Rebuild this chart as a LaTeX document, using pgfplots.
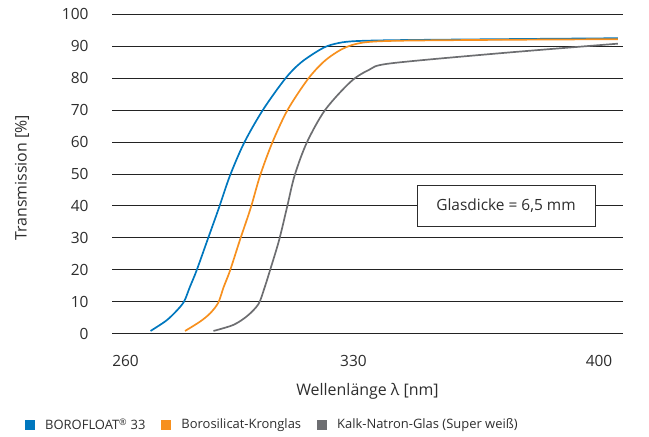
\documentclass[border=0pt]{standalone}
\usepackage{pgfplots}
\pgfplotsset{compat=1.18}
\usepackage{fontspec}
\setmainfont{Open Sans}
\definecolor{cblue}{RGB}{0,119,190}
\definecolor{corange}{RGB}{247,144,30}
\definecolor{cgray}{RGB}{109,110,113}
\definecolor{cgrid}{RGB}{35,35,35}
\definecolor{ctext}{RGB}{45,45,45}
\begin{document}
\fontsize{16}{19}\selectfont
\begin{tikzpicture}
\path[use as bounding box] (0,0) rectangle (649bp,437bp);
\begin{axis}[
  at={(112bp,103.5bp)}, anchor=south west,
  scale only axis, width=511bp, height=319.2bp,
  xmin=256, xmax=407.1, ymin=0, ymax=100,
  axis line style={draw=none},
  xtick={260,327.4,400}, xticklabels={260,330,400},
  ytick={0,10,...,100},
  major tick length=0pt,
  ymajorgrids, grid style={cgrid, line width=0.7pt},
  /pgf/number format/assume math mode=true,
  ticklabel style={font=\fontsize{15.5}{18}\selectfont, text=ctext},
  xticklabel style={yshift=-16bp},
  yticklabel style={xshift=-18bp},
  xlabel={Wellenlänge λ [nm]},
  ylabel={Transmission [\%]},
  label style={font=\fontsize{16}{19}\selectfont, text=ctext},
  xlabel style={yshift=-6bp},
  ylabel style={yshift=22bp, xshift=-4bp},
  clip=false,
  legend columns=3,
  legend style={draw=none, fill=none, at={(-0.176,-0.287)}, anchor=west,
    font=\fontsize{13}{16}\selectfont, text=ctext,
    /tikz/every odd column/.append style={column sep=8bp},
    /tikz/every even column/.append style={column sep=14bp}},
  legend image code/.code={\fill[#1, draw=none] (0bp,-5bp) rectangle (10bp,5bp);},
]
\addplot[cblue, line width=1.7pt, smooth, tension=0.5] coordinates {
(267.4,0.8) (272,4) (275,7) (277.3,10) (279,14.5) (281,19.7) (284.2,29.2)
(287.6,39.3) (290.9,49.5) (295.1,59.8) (300.6,70) (307.2,79.8) (312,85)
(318.5,89.5) (323,91) (328,91.6) (340,91.9) (370,92.2) (405.6,92.5)};
\addlegendentry{BOROFLOAT\textsuperscript{®} 33}
\addplot[corange, line width=1.7pt, smooth, tension=0.5] coordinates {
(277.6,0.8) (282,3.7) (285,6.3) (287.4,9.6) (289,14.5) (290.9,19.7) (293.8,29.2)
(297,39.3) (299.8,49.5) (303.4,59.8) (307.9,70) (314,79.8) (319,85.5)
(324.4,89.3) (330,91.1) (340,91.7) (370,92) (405.6,92.2)};
\addlegendentry{Borosilicat-Kronglas}
\addplot[cgray, line width=1.7pt, smooth, tension=0.5] coordinates {
(286,0.8) (291.9,2.7) (296,5.5) (299.3,9.2) (301,14) (302.7,19.7) (305.4,29.2)
(307.7,39.3) (310,49.5) (313.6,59.8) (319,70) (326.5,78.8) (332,82.6)
(338.2,84.6) (370.7,87.8) (405.6,90.8)};
\addlegendentry{Kalk-Natron-Glas (Super weiß)}
\node[draw=ctext, fill=white, line width=0.8pt, minimum width=178bp, minimum height=41bp,
  inner sep=0pt, text=ctext, font=\fontsize{15.5}{18}\selectfont]
  at (axis cs:372.5,40) {Glasdicke = 6,5 mm};
\end{axis}
\end{tikzpicture}
\end{document}
